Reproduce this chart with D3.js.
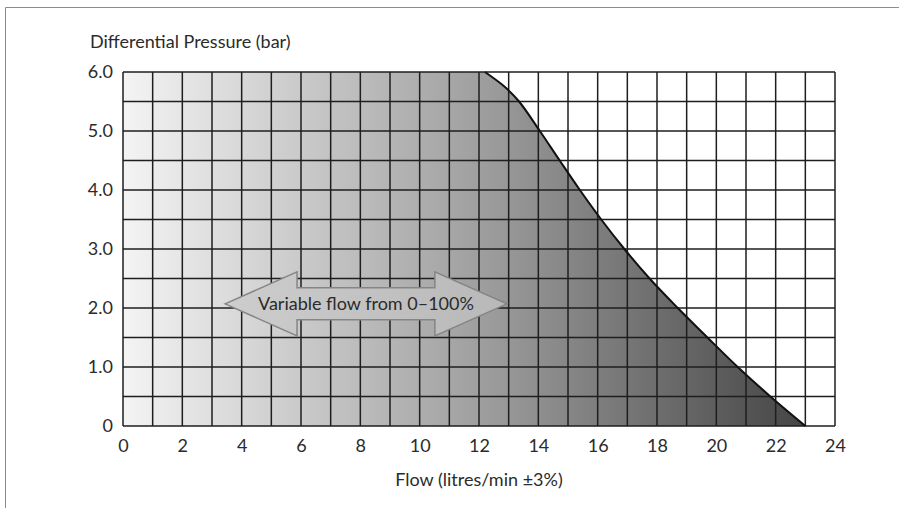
<!DOCTYPE html>
<html>
<head>
<meta charset="utf-8">
<script src="https://cdn.jsdelivr.net/npm/d3@7"></script>
<style>
  body { margin: 0; background: #fff; }
  text { font-family: Lato, "Open Sans", sans-serif; fill: #2b2b2b; }
</style>
</head>
<body>
<div id="chart"></div>
<script>
// data
var flow = [12.2, 13.35, 14.05, 14.72, 15.4, 16.12, 16.9, 17.75, 18.7, 19.7, 20.72, 21.82, 23.0];
var pressure = [6.0, 5.5, 5.0, 4.5, 4.0, 3.5, 3.0, 2.5, 2.0, 1.5, 1.0, 0.5, 0];
var xTicks = [0, 2, 4, 6, 8, 10, 12, 14, 16, 18, 20, 22, 24];
var yTicks = [0, 1, 2, 3, 4, 5, 6];
var yTickLabels = ["0", "1.0", "2.0", "3.0", "4.0", "5.0", "6.0"];
var yTitle = "Differential Pressure (bar)";
var xTitle = "Flow (litres/min \u00b13%)";
var arrowText = "Variable flow from 0\u2013100%";

var svgWidth = 899, svgHeight = 508;
var margin = { top: 72, right: 64, bottom: 82, left: 123 };
var chartWidth = svgWidth - margin.left - margin.right;   // 712
var chartHeight = svgHeight - margin.top - margin.bottom; // 354
var fontSize = "18px";

var svg = d3.select("#chart").append("svg")
  .attr("width", svgWidth)
  .attr("height", svgHeight);

// thin frame at top and left
svg.append("line").attr("x1", 5.5).attr("x2", svgWidth).attr("y1", 7.5).attr("y2", 7.5)
  .attr("stroke", "#8c8c8c").attr("stroke-width", 1);
svg.append("line").attr("x1", 5.5).attr("x2", 5.5).attr("y1", 7.5).attr("y2", svgHeight)
  .attr("stroke", "#8c8c8c").attr("stroke-width", 1);

var chartGroup = svg.append("g")
  .attr("transform", `translate(${margin.left}, ${margin.top})`);

var xScale = d3.scaleLinear().domain([0, 24]).range([0, chartWidth]);
var yScale = d3.scaleLinear().domain([0, 6]).range([chartHeight, 0]);

var defs = svg.append("defs");
var grad = defs.append("linearGradient")
  .attr("id", "fillGrad")
  .attr("gradientUnits", "userSpaceOnUse")
  .attr("x1", xScale(0)).attr("x2", xScale(23))
  .attr("y1", 0).attr("y2", 0);
grad.append("stop").attr("offset", "0%").attr("stop-color", "#f4f4f4");
grad.append("stop").attr("offset", "50%").attr("stop-color", "#a3a3a3");
grad.append("stop").attr("offset", "100%").attr("stop-color", "#454545");

var arrowGrad = defs.append("linearGradient")
  .attr("id", "arrowGrad")
  .attr("x1", "0%").attr("x2", "100%").attr("y1", "0%").attr("y2", "0%");
arrowGrad.append("stop").attr("offset", "0%").attr("stop-color", "#cdcdcd");
arrowGrad.append("stop").attr("offset", "100%").attr("stop-color", "#b8b8b8");

// area under the curve: full block left of the curve, then the curve itself
var pts = flow.map((f, i) => [f, pressure[i]]);
var curveLine = d3.line()
  .x(d => xScale(d[0]))
  .y(d => yScale(d[1]))
  .curve(d3.curveMonotoneX);

var areaPath = "M" + xScale(0) + "," + yScale(6) + "L" + curveLine(pts).slice(1) +
  "L" + xScale(0) + "," + yScale(0) + "Z";

chartGroup.append("path")
  .attr("d", areaPath)
  .attr("fill", "url(#fillGrad)");

// grid
var vLines = d3.range(0, 25, 1);
var hLines = d3.range(0, 6.01, 0.5);
chartGroup.selectAll(".vgrid").data(vLines).enter().append("line")
  .attr("x1", d => xScale(d)).attr("x2", d => xScale(d))
  .attr("y1", yScale(0)).attr("y2", yScale(6))
  .attr("stroke", "#1e1e1e").attr("stroke-width", 1.5);
chartGroup.selectAll(".hgrid").data(hLines).enter().append("line")
  .attr("x1", xScale(0)).attr("x2", xScale(24))
  .attr("y1", d => yScale(d)).attr("y2", d => yScale(d))
  .attr("stroke", "#1e1e1e").attr("stroke-width", 1.5);

// the curve
chartGroup.append("path")
  .attr("d", curveLine(pts))
  .attr("fill", "none")
  .attr("stroke", "#111")
  .attr("stroke-width", 2);

// axes (labels only)
var xAxis = d3.axisBottom(xScale).tickValues(xTicks).tickSize(0).tickPadding(13)
  .tickFormat(d3.format("d"));
var yAxis = d3.axisLeft(yScale).tickValues(yTicks).tickSize(0).tickPadding(10)
  .tickFormat((d, i) => yTickLabels[i]);

var gx = chartGroup.append("g")
  .attr("transform", `translate(0, ${chartHeight})`)
  .call(xAxis);
var gy = chartGroup.append("g").call(yAxis);
[gx, gy].forEach(g => {
  g.select(".domain").remove();
  g.selectAll("text")
    .style("font-family", "Lato, 'Open Sans', sans-serif")
    .style("font-size", fontSize)
    .attr("fill", "#2b2b2b");
});

// titles
svg.append("text")
  .attr("x", 90).attr("y", 48)
  .style("font-size", fontSize)
  .text(yTitle);
svg.append("text")
  .attr("x", margin.left + xScale(12)).attr("y", 486)
  .attr("text-anchor", "middle")
  .style("font-size", fontSize)
  .text(xTitle);

// double-headed arrow annotation
var aLeft = xScale(3.44), aRight = xScale(12.94), aMid = yScale(2.07);
var headLen = 72, shaftHalf = 16, headHalf = 32;
var arrowPts = [
  [aLeft, aMid],
  [aLeft + headLen, aMid - headHalf],
  [aLeft + headLen, aMid - shaftHalf],
  [aRight - headLen, aMid - shaftHalf],
  [aRight - headLen, aMid - headHalf],
  [aRight, aMid],
  [aRight - headLen, aMid + headHalf],
  [aRight - headLen, aMid + shaftHalf],
  [aLeft + headLen, aMid + shaftHalf],
  [aLeft + headLen, aMid + headHalf]
];
chartGroup.append("path")
  .attr("d", d3.line()(arrowPts) + "Z")
  .attr("fill", "url(#arrowGrad)")
  .attr("stroke", "#858585")
  .attr("stroke-width", 1.5)
  .attr("stroke-linejoin", "miter");

chartGroup.append("text")
  .attr("x", (aLeft + aRight) / 2)
  .attr("y", aMid)
  .attr("dy", "0.35em")
  .attr("text-anchor", "middle")
  .style("font-size", fontSize)
  .text(arrowText);
</script>
</body>
</html>
